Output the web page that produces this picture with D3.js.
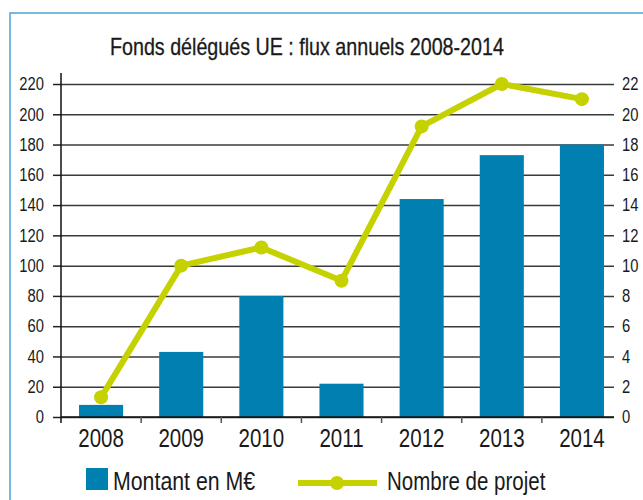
<!DOCTYPE html>
<html>
<head>
<meta charset="utf-8">
<script src="https://cdn.jsdelivr.net/npm/d3@7"></script>
<style>
  body { margin: 0; background: #fff; }
  svg text { font-family: "Liberation Sans", Arial, sans-serif; fill: #1a1a1a; }
</style>
</head>
<body>
<svg id="chart" width="643" height="500"></svg>
<script>
// data
const years = ["2008", "2009", "2010", "2011", "2012", "2013", "2014"];
const montant = [8, 43, 80, 22, 144, 173, 180];          // M€ (left axis)
const projets = [1.3, 10, 11.2, 9, 19.2, 22, 21];         // nombre de projets (right axis)
const leftTicks = [0, 20, 40, 60, 80, 100, 120, 140, 160, 180, 200, 220];
const rightTicks = [0, 2, 4, 6, 8, 10, 12, 14, 16, 18, 20, 22];

const title = "Fonds délégués UE : flux annuels 2008-2014";
const barColour = "#007fb1";
const lineColour = "#c5d200";

// the original uses a condensed grotesque; squeeze Liberation Sans to match
let condense = (sel, k = 0.82) => {
    sel.each(function() {
        let w = this.getComputedTextLength();
        d3.select(this).attr("textLength", w * k).attr("lengthAdjust", "spacingAndGlyphs");
    });
};

let svg = d3.select("#chart");

// frame
svg.append("path")
    .attr("d", "M10,500V13H643")
    .attr("fill", "none")
    .attr("stroke", "#4ea3d2")
    .attr("stroke-width", 1.5);

let x = d3.scaleBand()
    .domain(years)
    .range([61, 622])
    .paddingInner(0.45)
    .paddingOuter(0.225);

let yL = d3.scaleLinear().domain([0, 220]).range([417, 84]);
let yR = d3.scaleLinear().domain([0, 22]).range([417, 84]);

// right axis carries the gridlines
let gRight = svg.append("g")
    .attr("transform", "translate(614,0)")
    .call(d3.axisRight(yR).tickValues(rightTicks).tickSizeInner(-553).tickSizeOuter(0).tickPadding(8));
gRight.select(".domain").remove();
gRight.selectAll(".tick line").attr("stroke", "#3a3a3a").attr("stroke-width", 1.5);
gRight.selectAll(".tick text").attr("font-size", 18).attr("font-family", null).attr("fill", "#1a1a1a").call(condense);

// bars
svg.append("g").selectAll("rect")
    .data(years)
    .join("rect")
    .attr("x", d => x(d))
    .attr("width", x.bandwidth())
    .attr("y", (d, i) => yL(montant[i]))
    .attr("height", (d, i) => yL(0) - yL(montant[i]))
    .attr("fill", barColour);

// left axis
let gLeft = svg.append("g")
    .attr("transform", "translate(61,0)")
    .call(d3.axisLeft(yL).tickValues(leftTicks).tickSize(8).tickPadding(9));
gLeft.select(".domain").remove();
gLeft.selectAll(".tick line").attr("stroke", "#222").attr("stroke-width", 1.5);
gLeft.selectAll(".tick text").attr("font-size", 18).attr("font-family", null).attr("fill", "#1a1a1a").call(condense);
svg.append("line")
    .attr("x1", 61).attr("x2", 61)
    .attr("y1", 73).attr("y2", 423)
    .attr("stroke", "#111").attr("stroke-width", 1.5);

// bottom axis
let gBottom = svg.append("g")
    .attr("transform", "translate(0,417)")
    .call(d3.axisBottom(x).tickSize(0).tickPadding(12));
gBottom.select(".domain").remove();
gBottom.selectAll(".tick text").attr("font-size", 25).attr("font-family", null).attr("fill", "#1a1a1a").call(condense);
svg.append("line")
    .attr("x1", 61).attr("x2", 614)
    .attr("y1", 417).attr("y2", 417)
    .attr("stroke", "#111").attr("stroke-width", 1.5);
svg.append("g").selectAll("line")
    .data(years.slice(1))
    .join("line")
    .attr("x1", d => x(d) - x.step() * x.paddingInner() / 2)
    .attr("x2", d => x(d) - x.step() * x.paddingInner() / 2)
    .attr("y1", 417).attr("y2", 423)
    .attr("stroke", "#555").attr("stroke-width", 1.5);

// line series
let cx = d => x(d) + x.bandwidth() / 2;
svg.append("path")
    .datum(years)
    .attr("fill", "none")
    .attr("stroke", lineColour)
    .attr("stroke-width", 6)
    .attr("stroke-linejoin", "round")
    .attr("d", d3.line().x(d => cx(d)).y((d, i) => yR(projets[i])));
svg.append("g").selectAll("circle")
    .data(years)
    .join("circle")
    .attr("cx", d => cx(d))
    .attr("cy", (d, i) => yR(projets[i]))
    .attr("r", 7)
    .attr("fill", lineColour);

// title
svg.append("text")
    .attr("x", 110).attr("y", 55)
    .attr("font-size", 24)
    .attr("stroke", "#1a1a1a").attr("stroke-width", 0.3)
    .text(title)
    .call(condense);

// legend
let legend = svg.append("g");
legend.append("rect")
    .attr("x", 86).attr("y", 468)
    .attr("width", 22).attr("height", 22)
    .attr("fill", barColour);
legend.append("text")
    .attr("x", 113).attr("y", 490)
    .attr("font-size", 26)
    .text("Montant en M€")
    .call(condense);
legend.append("line")
    .attr("x1", 298).attr("x2", 377)
    .attr("y1", 483).attr("y2", 483)
    .attr("stroke", lineColour).attr("stroke-width", 6);
legend.append("circle")
    .attr("cx", 337).attr("cy", 483).attr("r", 7)
    .attr("fill", lineColour);
legend.append("text")
    .attr("x", 387).attr("y", 490)
    .attr("font-size", 25)
    .text("Nombre de projet")
    .call(condense);
</script>
</body>
</html>
